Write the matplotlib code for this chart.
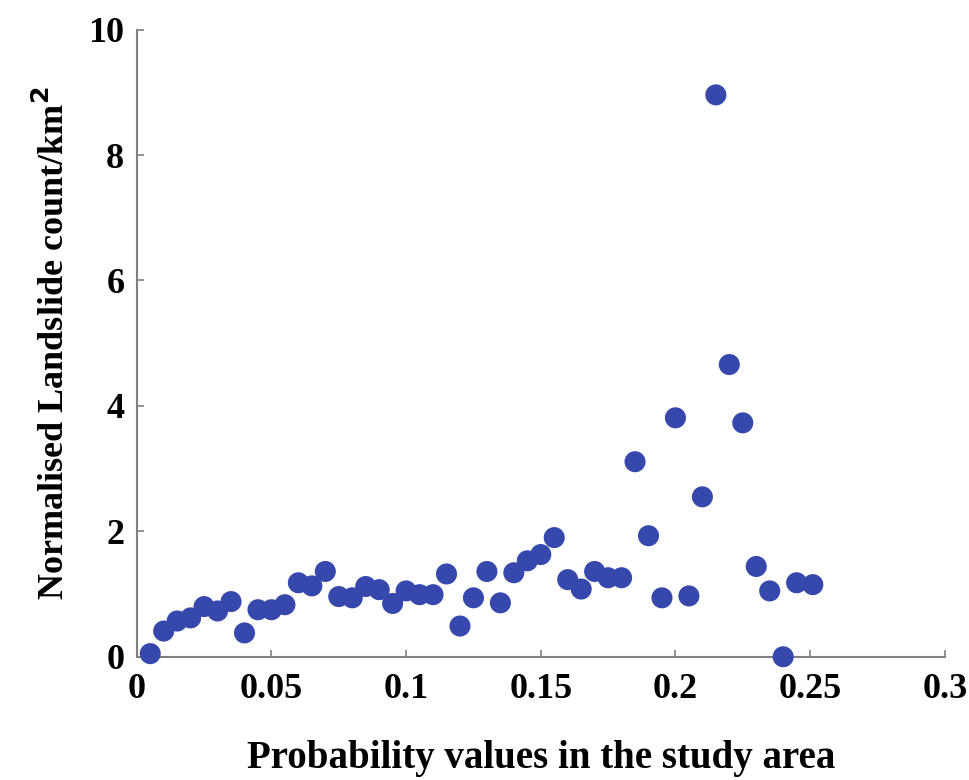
import matplotlib.pyplot as plt

plt.rcParams['font.family'] = ['Liberation Serif', 'DejaVu Serif']
plt.rcParams['font.weight'] = 'bold'

# probability values (x) and normalised landslide counts (y)
prob = [0.005, 0.01, 0.015, 0.02, 0.025, 0.03, 0.035, 0.04, 0.045, 0.05,
        0.055, 0.06, 0.065, 0.07, 0.075, 0.08, 0.085, 0.09, 0.095, 0.1,
        0.105, 0.11, 0.115, 0.12, 0.125, 0.13, 0.135, 0.14, 0.145, 0.15,
        0.155, 0.16, 0.165, 0.17, 0.175, 0.18, 0.185, 0.19, 0.195, 0.2,
        0.205, 0.21, 0.215, 0.22, 0.225, 0.23, 0.235, 0.24, 0.245, 0.251]
count = [0.05, 0.41, 0.57, 0.62, 0.80, 0.73, 0.88, 0.38, 0.75, 0.75,
         0.83, 1.18, 1.13, 1.36, 0.96, 0.94, 1.12, 1.07, 0.85, 1.05,
         0.99, 0.99, 1.32, 0.49, 0.94, 1.36, 0.86, 1.34, 1.53, 1.63,
         1.90, 1.23, 1.08, 1.36, 1.26, 1.26, 3.11, 1.93, 0.94, 3.81,
         0.97, 2.55, 8.96, 4.66, 3.73, 1.44, 1.05, 0.0, 1.18, 1.15]

xticks = [0, 0.05, 0.1, 0.15, 0.2, 0.25, 0.3]
xticklabels = ['0', '0.05', '0.1', '0.15', '0.2', '0.25', '0.3']
yticks = [0, 2, 4, 6, 8, 10]

fig = plt.figure(figsize=(9.7, 7.8), dpi=100)
ax = fig.add_axes([0.141, 0.158, 0.833, 0.804])

ax.scatter(prob, count, s=230, color='#3748ad', edgecolors='none', clip_on=False, zorder=3)

ax.set_xlim(0, 0.3)
ax.set_ylim(0, 10)
ax.set_xticks(xticks)
ax.set_xticklabels(xticklabels)
ax.set_yticks(yticks)

for side in ['top', 'right']:
    ax.spines[side].set_visible(False)
for side in ['left', 'bottom']:
    ax.spines[side].set_color('#808080')
    ax.spines[side].set_linewidth(1.5)

ax.tick_params(direction='in', length=5, width=1.2, color='#808080',
               labelsize=26)
ax.tick_params(axis='x', pad=12)
ax.tick_params(axis='y', pad=9)
for lbl in ax.get_xticklabels() + ax.get_yticklabels():
    lbl.set_fontweight('bold')

ax.set_xlabel('Probability values in the study area', fontsize=28,
              fontweight='bold', labelpad=24)
ax.set_ylabel('Normalised Landslide count/km$^\\mathbf{2}$', fontsize=26,
              fontweight='bold', labelpad=12)

fig.savefig('out.png', dpi=100)
